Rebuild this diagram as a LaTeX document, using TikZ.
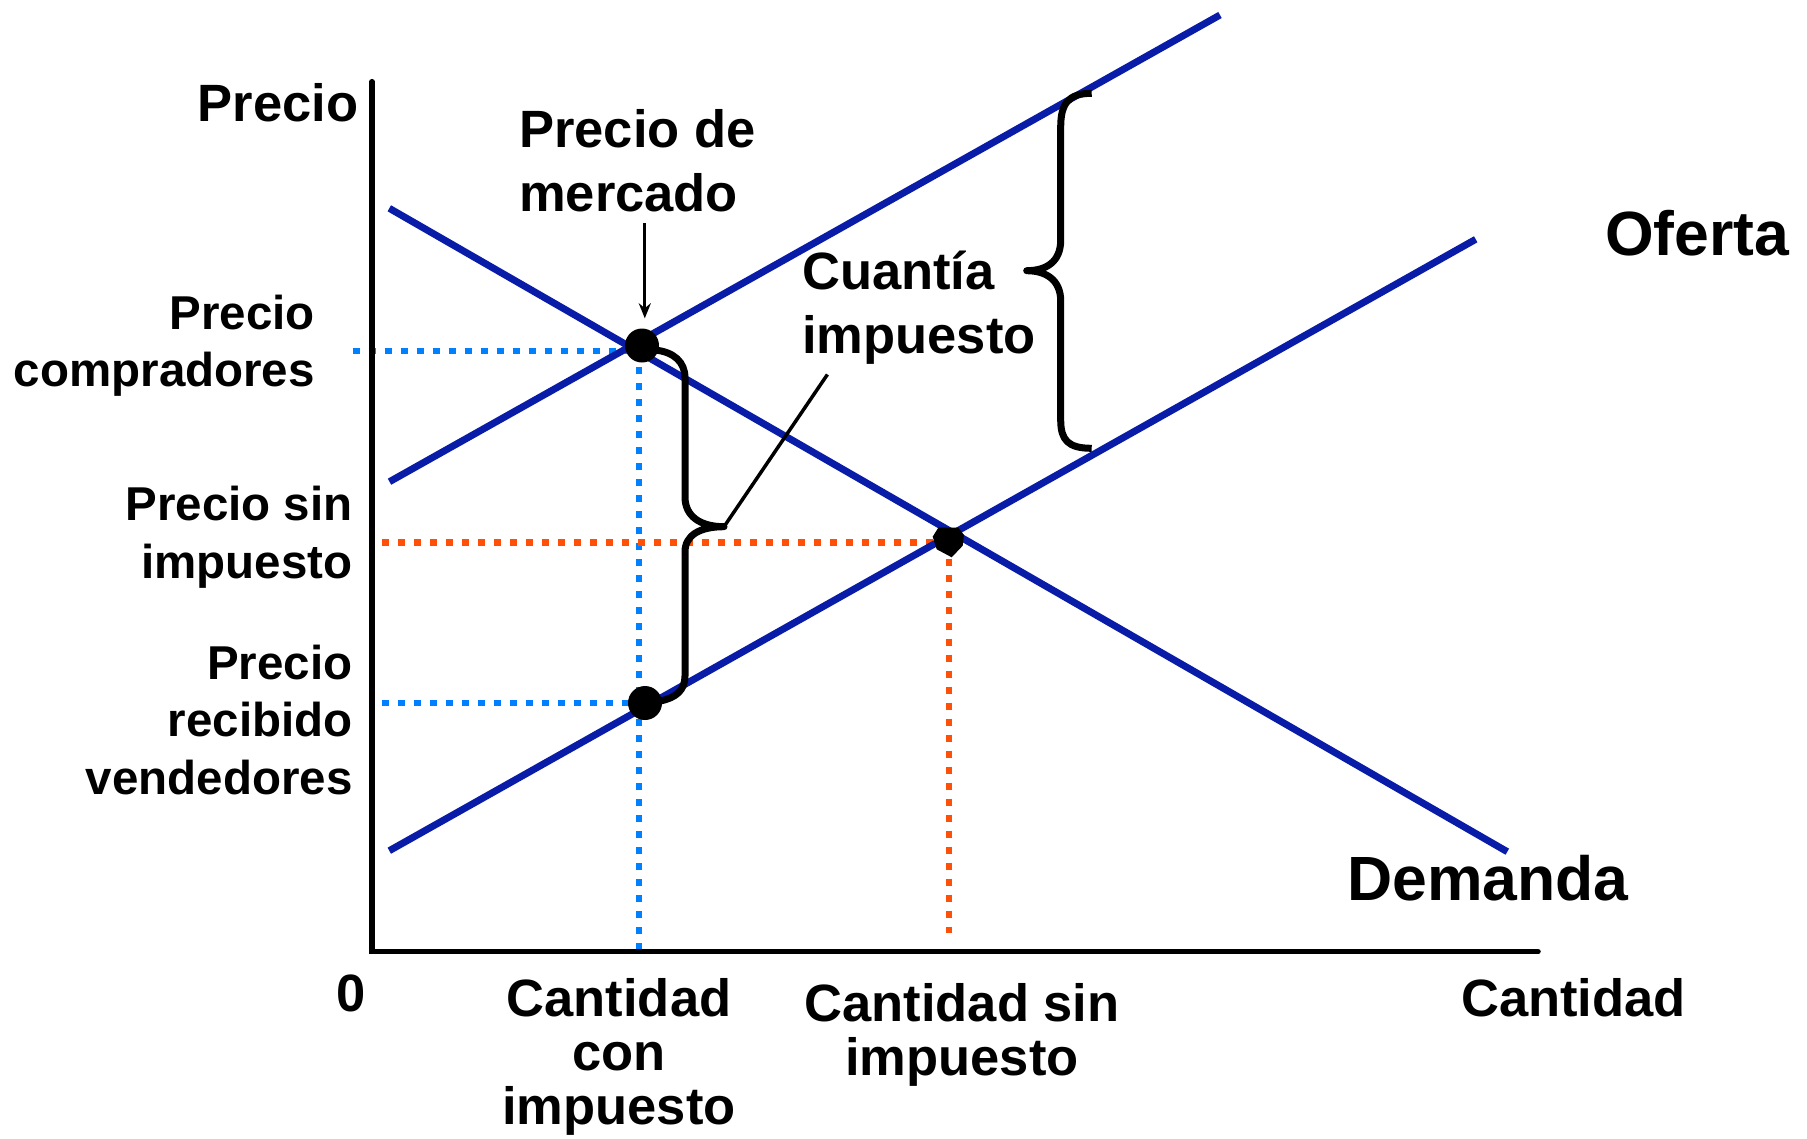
\documentclass[tikz,border=0pt]{standalone}
\usepackage{fontspec}
\setmainfont{Liberation Sans}
\usetikzlibrary{arrows.meta}
\definecolor{curvecol}{RGB}{8,28,168}
\definecolor{dotblue}{RGB}{0,128,255}
\definecolor{dotred}{RGB}{255,80,10}
\begin{document}
\begin{tikzpicture}[x=1pt,y=-1pt,
  curveline/.style={draw=curvecol,line width=7pt},
  guideblue/.style={draw=dotblue,line width=6.5pt,dash pattern=on 7pt off 9pt},
  guidered/.style={draw=dotred,line width=6.5pt,dash pattern=on 7pt off 9pt},
  bracepath/.style={draw=black,line width=7pt,line cap=round,line join=round},
  mainlab/.style={font=\fontsize{52.5}{64}\selectfont\bfseries,inner sep=0pt},
  bottomlab/.style={font=\fontsize{52.5}{54}\selectfont\bfseries,inner sep=0pt},
  sidelab/.style={font=\fontsize{47.5}{57.5}\selectfont\bfseries,inner sep=0pt},
  biglab/.style={font=\fontsize{62.5}{70}\selectfont\bfseries,inner sep=0pt},
  blackdot/.style={fill=black}
]
\useasboundingbox (0,0) rectangle (1807,1138);

% key coordinates
\coordinate (O) at (372,951.7);
\coordinate (ytop) at (372,81.7);
\coordinate (xend) at (1538,951.7);
\coordinate (d1) at (389.3,208.3);
\coordinate (d2) at (1507.3,851.7);
\coordinate (s1) at (389.3,850.7);
\coordinate (s2) at (1475.7,239.3);
\coordinate (t1) at (389.5,481.7);
\coordinate (t2) at (1220,15);
\coordinate (pb) at (642,345.5);
\coordinate (ps) at (645,703);
\coordinate (pe) at (949,542.7);

% guide lines
\coordinate (gb1) at (352.7,351);
\coordinate (gb2) at (639,351);
\coordinate (gbv) at (639,951.7);
\coordinate (gl1) at (381.7,703);
\coordinate (gl2) at (645,703);
\coordinate (gr1) at (381.7,542.7);
\coordinate (gr2) at (949,542.7);
\coordinate (grv) at (949,933);
\draw[guideblue] (gb1) -- (gb2);
\draw[guideblue] (gb2) -- (gbv);
\draw[guideblue] (gl1) -- (gl2);
\draw[guidered] (gr1) -- (gr2);
\draw[guidered] (gr2) -- (grv);

% curves
\draw[curveline] (d1) -- (d2);
\draw[curveline] (s1) -- (s2);
\draw[curveline] (t1) -- (t2);

% axes
\draw[line width=5.5pt,line cap=round,line join=miter] (ytop) -- (O) -- (xend);

% small brace
\coordinate (sbtip) at (724,526.7);
\draw[bracepath] (655,350) .. controls (674,352) and (685,362) .. (685,378)
  -- (685,497) .. controls (685,516) and (700,526.7) .. (sbtip)
  .. controls (700,526.7) and (685,535) .. (685,552)
  -- (685,676) .. controls (685,690) and (676,698) .. (660,701);
\coordinate (leadend) at (827.4,374.5);
\draw[line width=3.5pt] (sbtip) -- (leadend);

% big brace
\draw[bracepath,line cap=butt] (1091.7,93.3) .. controls (1068,93.3) and (1060.7,104) .. (1060.7,127)
  -- (1060.7,240) .. controls (1060.7,262) and (1046,270.7) .. (1026.7,270.7)
  .. controls (1046,270.7) and (1060.7,280) .. (1060.7,301)
  -- (1060.7,420) .. controls (1060.7,440) and (1068,448.3) .. (1091.7,448.3);

% points
\fill[blackdot] (pb) circle[radius=17pt];
\fill[blackdot] (ps) circle[radius=17pt];
\fill[blackdot] (938.3,527.7) -- (958.3,527.7) -- (964,535) -- (962.7,545.7)
  -- (951.7,557.3) -- (936.7,549.3) -- (932.7,536.7) -- cycle;

% labels (base anchor = baseline of the last line)
\node[mainlab,anchor=base east] (precio) at (358.3,121.7) {Precio};
\node[sidelab,anchor=base east,align=right] (pcomp) at (315,386.7) {Precio\\compradores};
\node[sidelab,anchor=base east,align=right] (psin) at (352.7,578.3) {Precio sin\\impuesto};
\node[sidelab,anchor=base east,align=right] (prec) at (352.7,794.3) {Precio\\recibido\\vendedores};
\node[mainlab,anchor=base west,align=left] (pmerc) at (519,211.7) {Precio de\\mercado};
\node[mainlab,anchor=base west,align=left] (cuant) at (802,353.3) {Cuantía\\impuesto};
\node[biglab,anchor=base west] (oferta) at (1605,255) {Oferta};
\node[biglab,anchor=base west] (demanda) at (1347,900) {Demanda};
\node[mainlab,anchor=base] (cero) at (351.5,1011.5) {0};
\node[bottomlab,anchor=base,align=center] (qcon) at (619,1124.5) {Cantidad\\con\\impuesto};
\node[bottomlab,anchor=base,align=center] (qsin) at (962,1075.5) {Cantidad sin\\impuesto};
\node[mainlab,anchor=base west] (qlab) at (1461,1016.7) {Cantidad};

% arrow to market price
\coordinate (arrtop) at (644.8,223.3);
\coordinate (arrtip) at (644.8,318.3);
\draw[line width=3pt,-{Stealth[length=15pt,width=12pt]}] (arrtop) -- (arrtip);
\end{tikzpicture}
\end{document}
